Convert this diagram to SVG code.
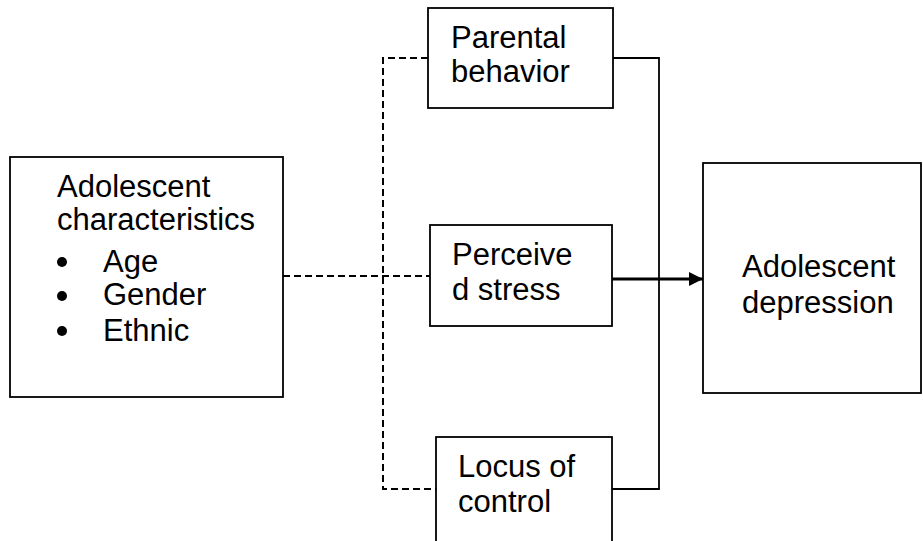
<svg xmlns="http://www.w3.org/2000/svg" width="923" height="541" viewBox="0 0 923 541">
<defs>
<style>
.box{fill:#fff;stroke:#000;stroke-width:1.8}
.t{font-family:"Liberation Sans",Arial,sans-serif;font-size:31px;fill:#000}
.dash{fill:none;stroke:#000;stroke-width:2;stroke-dasharray:7 4}
.solid{fill:none;stroke:#000;stroke-width:1.8}
</style>
<marker id="ah" viewBox="0 0 10 10" refX="10" refY="5" markerWidth="15" markerHeight="14" markerUnits="userSpaceOnUse" orient="auto">
<path d="M0,0 L10,5 L0,10 Z" fill="#000"/>
</marker>
</defs>
<rect width="923" height="541" fill="#fff"/>
<g id="connectors">
<path class="dash" d="M283,276 H430"/>
<path class="dash" d="M428,58 H383 V489 H436"/>
<path class="solid" d="M613,58 H659 V489 H612"/>
<path d="M612,279 H703" stroke="#000" stroke-width="2.8" fill="none" marker-end="url(#ah)"/>
</g>
<g id="adolescent-characteristics">
<rect class="box" x="10" y="157" width="273" height="240"/>
<text class="t" x="57" y="197">Adolescent</text>
<text class="t" x="57" y="230">characteristics</text>
<circle cx="62" cy="262" r="5"/>
<text class="t" x="103" y="272">Age</text>
<circle cx="62" cy="296" r="5"/>
<text class="t" x="103" y="305">Gender</text>
<circle cx="62" cy="331" r="5"/>
<text class="t" x="103" y="341">Ethnic</text>
</g>
<g id="parental-behavior">
<rect class="box" x="428" y="8" width="185" height="100"/>
<text class="t" x="451" y="48">Parental</text>
<text class="t" x="451" y="82">behavior</text>
</g>
<g id="perceived-stress">
<rect class="box" x="430" y="225" width="182" height="101"/>
<text class="t" x="452" y="265">Perceive</text>
<text class="t" x="452" y="300">d stress</text>
</g>
<g id="locus-of-control">
<rect class="box" x="436" y="437" width="176" height="110"/>
<text class="t" x="458" y="477">Locus of</text>
<text class="t" x="458" y="512">control</text>
</g>
<g id="adolescent-depression">
<rect class="box" x="703" y="163" width="218" height="230"/>
<text class="t" x="742" y="277">Adolescent</text>
<text class="t" x="742" y="313">depression</text>
</g>
</svg>
